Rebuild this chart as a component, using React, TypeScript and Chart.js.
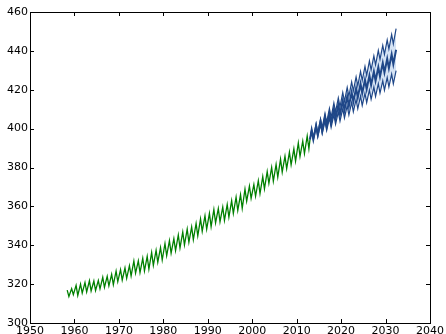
import React, { useEffect, useRef } from "react";
import { Chart, registerables } from "chart.js";

Chart.register(...registerables);

// Observed (green) seasonal extremes, per year: May peak and autumn trough (ppm)
const obsYears = [
  1958, 1959, 1960, 1961, 1962, 1963, 1964, 1965, 1966, 1967,
  1968, 1969, 1970, 1971, 1972, 1973, 1974, 1975, 1976, 1977,
  1978, 1979, 1980, 1981, 1982, 1983, 1984, 1985, 1986, 1987,
  1988, 1989, 1990, 1991, 1992, 1993, 1994, 1995, 1996, 1997,
  1998, 1999, 2000, 2001, 2002, 2003, 2004, 2005, 2006, 2007,
  2008, 2009, 2010, 2011, 2012,
];
const obsPeaks = [
  316.9, 317.7, 319.4, 320.0, 320.8, 321.7, 321.6, 321.8, 323.5, 324.0,
  325.0, 326.7, 327.5, 328.3, 329.5, 331.9, 332.0, 333.3, 334.3, 336.3,
  337.4, 338.8, 340.9, 342.4, 343.4, 345.3, 346.8, 348.3, 349.4, 351.2,
  353.6, 355.1, 356.4, 358.4, 358.9, 359.6, 361.0, 363.0, 364.7, 366.0,
  368.9, 370.4, 371.2, 373.2, 375.3, 377.9, 380.0, 381.6, 384.3, 385.8,
  387.9, 389.6, 392.6, 393.6, 396.2,
];
const obsTroughs = [
  313.6, 314.6, 314.2, 315.4, 316.0, 316.5, 316.7, 317.6, 318.4, 319.1,
  319.7, 321.3, 322.1, 323.0, 324.2, 325.7, 325.9, 326.8, 327.7, 329.7,
  331.3, 332.4, 334.6, 335.9, 337.2, 338.6, 340.2, 341.5, 342.9, 344.8,
  347.2, 348.3, 349.6, 351.5, 352.1, 352.8, 354.5, 356.4, 357.9, 359.0,
  362.7, 364.1, 365.2, 366.6, 369.0, 371.8, 373.0, 375.0, 377.6, 379.4,
  381.4, 383.2, 385.7, 387.2, 389.6,
];
const handoverYear = 2013.0;
const handoverValue = 394.5;

// Forecast (blue): mean, upper and lower bound, seasonal peak/trough per year
const fcYears = [
  2013, 2014, 2015, 2016, 2017, 2018, 2019, 2020, 2021, 2022,
  2023, 2024, 2025, 2026, 2027, 2028, 2029, 2030, 2031, 2032,
];
const meanPeaks = [
  399.3, 401.5, 403.6, 405.8, 407.9, 410.1, 412.2, 414.4, 416.5, 418.7,
  420.8, 423.0, 425.1, 427.3, 429.4, 431.6, 433.7, 435.9, 438.2, 440.6,
];
const meanTroughs = [
  394.5, 396.7, 398.8, 401.0, 403.1, 405.3, 407.4, 409.6, 411.7, 413.9,
  416.0, 418.2, 420.3, 422.5, 424.6, 426.8, 428.9, 431.1, 433.2, 435.4,
];
const upperPeaks = [
  399.6, 402.4, 405.0, 407.8, 410.4, 413.2, 415.8, 418.6, 421.2, 424.0,
  426.6, 429.4, 432.0, 434.8, 437.4, 440.2, 442.8, 445.6, 448.4, 451.4,
];
const upperTroughs = [
  395.0, 397.8, 400.4, 403.2, 405.8, 408.6, 411.2, 414.0, 416.6, 419.4,
  422.0, 424.8, 427.4, 430.2, 432.8, 435.6, 438.2, 441.0, 443.6, 446.4,
];
const lowerPeaks = [
  399.0, 400.7, 402.2, 403.9, 405.4, 407.1, 408.6, 410.3, 411.8, 413.5,
  415.0, 416.7, 418.2, 419.9, 421.4, 423.1, 424.6, 426.3, 428.0, 429.8,
];
const lowerTroughs = [
  394.2, 395.9, 397.4, 399.1, 400.6, 402.3, 403.8, 405.5, 407.0, 408.7,
  410.2, 411.9, 413.4, 415.1, 416.6, 418.3, 419.8, 421.5, 423.0, 424.7,
];

// month fractions of the seasonal maximum (May) and minimum (autumn)
const PEAK_FRAC = 0.37;
const TROUGH_FRAC = 0.75;

const xTicks = [1950, 1960, 1970, 1980, 1990, 2000, 2010, 2020, 2030, 2040];
const yTicks = [300, 320, 340, 360, 380, 400, 420, 440, 460];

function seasonal(years: number[], peaks: number[], troughs: number[], lastPeakOnly = false) {
  const pts: { x: number; y: number }[] = [];
  years.forEach((yr, i) => {
    pts.push({ x: yr + PEAK_FRAC, y: peaks[i] });
    if (!(lastPeakOnly && i === years.length - 1)) pts.push({ x: yr + TROUGH_FRAC, y: troughs[i] });
  });
  return pts;
}

const W = 446;
const H = 345;

const framePlugin = {
  id: "frameTicks",
  afterDatasetsDraw(chart: any) {
    const { ctx, chartArea } = chart;
    const { left, right, top, bottom } = chartArea;
    const xs = chart.scales.x;
    const ys = chart.scales.y;
    const len = 4;
    ctx.save();
    ctx.strokeStyle = "#000";
    ctx.lineWidth = 1;
    ctx.beginPath();
    xTicks.forEach((v) => {
      const px = Math.round(xs.getPixelForValue(v)) + 0.5;
      ctx.moveTo(px, bottom);
      ctx.lineTo(px, bottom - len);
      ctx.moveTo(px, top);
      ctx.lineTo(px, top + len);
    });
    yTicks.forEach((v) => {
      const py = Math.round(ys.getPixelForValue(v)) + 0.5;
      ctx.moveTo(left, py);
      ctx.lineTo(left + len, py);
      ctx.moveTo(right, py);
      ctx.lineTo(right - len, py);
    });
    ctx.stroke();
    ctx.strokeRect(Math.round(left) + 0.5, Math.round(top) + 0.5, Math.round(right - left), Math.round(bottom - top));
    ctx.restore();
  },
};

export default function App() {
  const ref = useRef<HTMLCanvasElement | null>(null);

  useEffect(() => {
    if (!ref.current) return;
    const start = { x: handoverYear, y: handoverValue };
    const green = [...seasonal(obsYears, obsPeaks, obsTroughs), start];
    const mean = [start, ...seasonal(fcYears, meanPeaks, meanTroughs, true)];
    const upper = [start, ...seasonal(fcYears, upperPeaks, upperTroughs, true)];
    const lower = [start, ...seasonal(fcYears, lowerPeaks, lowerTroughs, true)];
    const blue = "#1f4788";

    const chart = new Chart(ref.current, {
      type: "line",
      data: {
        datasets: [
          {
            label: "mean",
            data: mean,
            borderColor: blue,
            borderWidth: 2,
            pointRadius: 0,
            tension: 0,
            fill: false,
            order: 0,
          },
          {
            label: "upper",
            data: upper,
            borderColor: blue,
            borderWidth: 1.2,
            backgroundColor: "#d5e3f4",
            pointRadius: 0,
            tension: 0,
            fill: { target: 2 },
            order: 2,
          },
          {
            label: "lower",
            data: lower,
            borderColor: blue,
            borderWidth: 1.2,
            pointRadius: 0,
            tension: 0,
            fill: false,
            order: 1,
          },
          {
            label: "observed",
            data: green,
            borderColor: "#008000",
            borderWidth: 1.3,
            pointRadius: 0,
            tension: 0,
            fill: false,
            order: 3,
          },
        ],
      },
      options: {
        animation: false,
        responsive: false,
        maintainAspectRatio: false,
        devicePixelRatio: 1,
        layout: { padding: { top: 12, right: 15, left: 0, bottom: 0 } },
        plugins: {
          legend: { display: false },
          tooltip: { enabled: false },
          filler: { propagate: false },
        },
        scales: {
          x: {
            type: "linear",
            min: 1950,
            max: 2040,
            afterFit: (s: any) => {
              s.height = H - 323;
            },
            afterBuildTicks: (s: any) => {
              s.ticks = xTicks.map((v) => ({ value: v }));
            },
            grid: { display: false, drawTicks: false },
            border: { display: false },
            ticks: {
              padding: 2,
              color: "#000",
              maxRotation: 0,
              autoSkip: false,
              font: { family: "DejaVu Sans", size: 11 },
              callback: (v: any) => String(v),
            },
          },
          y: {
            type: "linear",
            min: 300,
            max: 460,
            afterFit: (s: any) => {
              s.width = 30;
            },
            afterBuildTicks: (s: any) => {
              s.ticks = yTicks.map((v) => ({ value: v }));
            },
            grid: { display: false, drawTicks: false },
            border: { display: false },
            ticks: {
              padding: 2,
              color: "#000",
              autoSkip: false,
              font: { family: "DejaVu Sans", size: 11 },
              callback: (v: any) => String(v),
            },
          },
        },
      },
      plugins: [framePlugin],
    });
    return () => chart.destroy();
  }, []);

  return (
    <div style={{ position: "fixed", left: 0, top: 0, width: W, height: H, background: "#fff" }}>
      <canvas ref={ref} width={W} height={H} style={{ width: W, height: H, display: "block" }} />
    </div>
  );
}
